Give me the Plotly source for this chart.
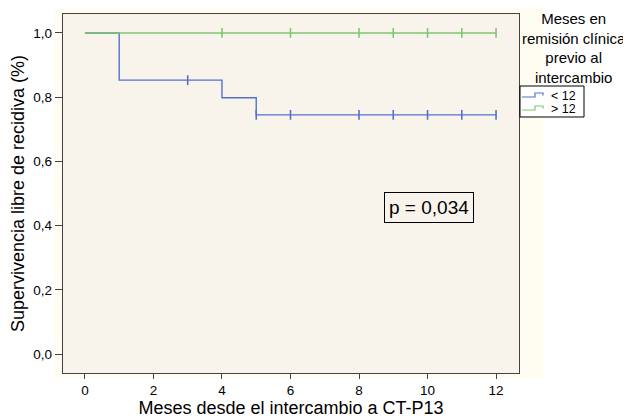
import plotly.graph_objects as go

# Blue group (< 12 months): step times and survival
lt12_times = [0, 1, 4, 5, 12]
lt12_surv = [1.0, 0.853, 0.798, 0.745, 0.745]
lt12_cens_t = [3, 5, 6, 8, 9, 10, 11, 12]
lt12_cens_s = [0.853, 0.745, 0.745, 0.745, 0.745, 0.745, 0.745, 0.745]

# Green group (> 12 months)
gt12_times = [0, 12]
gt12_surv = [1.0, 1.0]
gt12_cens_t = [4, 6, 8, 9, 10, 11, 12]
gt12_cens_s = [1.0, 1.0, 1.0, 1.0, 1.0, 1.0, 1.0]

group_names = ["< 12", "> 12"]
x_ticks = [0, 2, 4, 6, 8, 10, 12]
y_ticks = [0.0, 0.2, 0.4, 0.6, 0.8, 1.0]
y_tick_text = ["0,0", "0,2", "0,4", "0,6", "0,8", "1,0"]

blue = "#5272CC"
green = "#80C571"
font = "Liberation Sans, Arial, sans-serif"

# page has default 8px body margin: compensate
OFF = 8
W, H = 631 - OFF, 420 - OFF
P_L, P_T, P_R, P_B = 63, 14, 519, 373          # plot area in page pixels
ML, MT = P_L - OFF, P_T - OFF
MR, MB = W - (P_R - OFF), H - (P_B - OFF)
PW, PH = P_R - P_L, P_B - P_T


def px(x):
    return (x - P_L) / PW


def py(y):
    return (P_B - y) / PH


fig = go.Figure()
fig.add_trace(go.Scatter(x=lt12_times, y=lt12_surv, mode="lines", line_shape="hv",
                         line=dict(color=blue, width=1.4), name=group_names[0], showlegend=False))
fig.add_trace(go.Scatter(x=gt12_times, y=gt12_surv, mode="lines", line_shape="hv",
                         line=dict(color=green, width=1.4), name=group_names[1], showlegend=False))
fig.add_trace(go.Scatter(x=lt12_cens_t, y=lt12_cens_s, mode="markers", showlegend=False,
                         marker=dict(symbol="line-ns-open", size=7, color=blue,
                                     line=dict(color=blue, width=1.6))))
fig.add_trace(go.Scatter(x=gt12_cens_t, y=gt12_cens_s, mode="markers", showlegend=False,
                         marker=dict(symbol="line-ns-open", size=7, color=green,
                                     line=dict(color=green, width=1.6))))

# background panels
fig.add_shape(type="rect", xref="paper", yref="paper", x0=px(54), x1=px(543), y0=py(378), y1=py(OFF),
              fillcolor="#FFFDF2", line=dict(width=0), layer="below")
fig.add_shape(type="rect", xref="paper", yref="paper", x0=0, x1=1, y0=0, y1=1,
              fillcolor="#F8F4EC", line=dict(width=0), layer="below")

# p-value box
fig.add_annotation(x=10.04, y=0.456, xref="x", yref="y", text="p = 0,034", showarrow=False,
                   font=dict(size=19, color="black", family=font),
                   bordercolor="black", borderwidth=1, borderpad=4, bgcolor="#F8F4EC")

# legend title
fig.add_annotation(x=px(574), y=py(10), xref="paper", yref="paper", xanchor="center", yanchor="top",
                   text="Meses en<br>remisión clínica<br>previo al<br>intercambio", showarrow=False,
                   font=dict(size=15, color="black", family=font), align="center", height=72)

# manual legend box
fig.add_shape(type="rect", xref="paper", yref="paper", x0=px(520), x1=px(584), y0=py(117), y1=py(86),
              fillcolor="white", line=dict(color="black", width=1))
for name, col, yc in [(group_names[0], blue, 95.5), (group_names[1], green, 108.5)]:
    pts = [(522, yc + 1.5), (535, yc + 1.5), (535, yc - 2.5), (543, yc - 2.5), (543, yc)]
    path = "M " + " L ".join(f"{px(a):.5f},{py(b):.5f}" for a, b in pts)
    fig.add_shape(type="path", xref="paper", yref="paper", path=path,
                  line=dict(color=col, width=1.2))
    fig.add_annotation(x=px(550), y=py(yc), xref="paper", yref="paper", xanchor="left",
                       yanchor="middle", text=name, showarrow=False, height=10, borderpad=0,
                       font=dict(size=12.5, color="black", family=font))

fig.update_layout(
    width=W, height=H,
    margin=dict(l=ML, r=MR, t=MT, b=MB, autoexpand=False),
    paper_bgcolor="white", plot_bgcolor="#F8F4EC",
    font=dict(family=font, color="black", size=13),
    showlegend=False,
    xaxis=dict(range=[-0.64, 12.67], tickvals=x_ticks, ticks="outside", ticklen=5,
               showgrid=False, zeroline=False, showline=True, linecolor="#444", linewidth=1.3,
               mirror=True, tickcolor="#444", automargin=False,
               title=dict(text="Meses desde el intercambio a CT-P13", font=dict(size=18), standoff=4),
               tickfont=dict(size=13.5)),
    yaxis=dict(range=[-0.059, 1.059], tickvals=y_ticks, ticktext=y_tick_text, ticks="outside",
               ticklen=7, showgrid=False, zeroline=False, showline=True, linecolor="#444",
               linewidth=1.3, mirror=True, tickcolor="#444", automargin=False,
               title=dict(text="Supervivencia libre de recidiva (%)", font=dict(size=18), standoff=6),
               tickfont=dict(size=13.5)),
)

fig.write_html("out.html")
